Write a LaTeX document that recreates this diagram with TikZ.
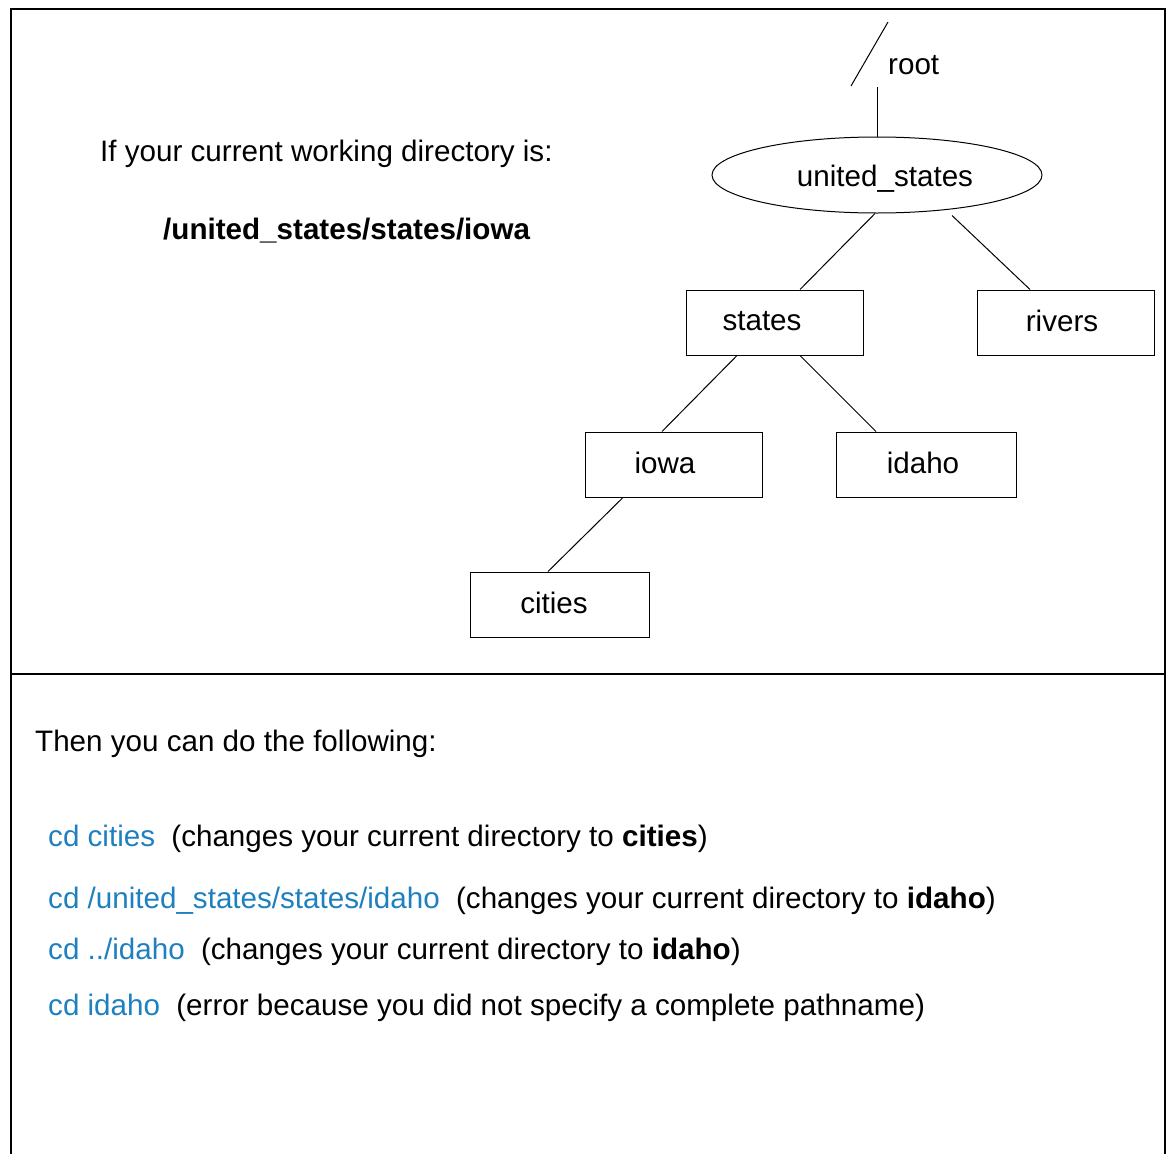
\documentclass[tikz,border=0pt]{standalone}
\usepackage{fontspec}
\setmainfont{Liberation Sans}
\usetikzlibrary{shapes.geometric,calc}
\definecolor{cmdblue}{RGB}{30,128,190}
\begin{document}
\begin{tikzpicture}[x=1pt,y=-1pt,
  every node/.style={font=\fontsize{29.6}{34}\selectfont, inner sep=0pt},
  dirbox/.style={draw, line width=1pt, minimum width=177pt, minimum height=65pt},
  link/.style={line width=1pt},
  txt/.style={anchor=west},
  cmd/.style={text=cmdblue}]
\useasboundingbox (0,0) rectangle (1168,1154);
% outer frame, open at the bottom, and the divider
\draw[line width=2.5pt] (11,1154) -- (11,9) -- (1165,9) -- (1165,1154);
\draw[line width=1.3pt] (11,674) -- (1165,674);

% directory tree
\node[draw, ellipse, line width=1pt, minimum width=330pt, minimum height=76pt] (us) at (877,175) {};
\node (uslabel) at (885,179) {united\_states};
\node[dirbox] (states) at (774.5,322.5) {};
\node (stateslabel) at (762,321) {states};
\node[dirbox] (rivers) at (1066,322.5) {};
\node (riverslabel) at (1062,321) {rivers};
\node[dirbox] (iowa) at (673.5,464.5) {};
\node (iowalabel) at (665,463) {iowa};
\node[dirbox, minimum width=180pt] (idaho) at (926,464.5) {};
\node (idaholabel) at (923,463) {idaho};
\node[dirbox, minimum width=179pt] (cities) at (559.5,604.5) {};
\node (citieslabel) at (554,603) {cities};

% root marker
\coordinate (roottop) at (877,87);
\coordinate (slashlo) at (851,86);
\coordinate (slashhi) at (888,22);
\node[txt] (rootlabel) at (888,65) {root};
\draw[link] (roottop) -- (us.north);
\draw[link] (slashlo) -- (slashhi);

% tree connectors
\draw[link] ([xshift=-2pt]us.south) -- ([xshift=25.5pt]states.north);
\draw[link] ([xshift=75pt,yshift=-2pt]us.south) -- ([xshift=-36pt]rivers.north);
\draw[link] ([xshift=-37.5pt]states.south) -- ([xshift=-11.5pt]iowa.north);
\draw[link] ([xshift=25.5pt]states.south) -- ([xshift=-50pt]idaho.north);
\draw[link] ([xshift=-50.5pt]iowa.south) -- ([xshift=-11.5pt]cities.north);

% upper text
\node[txt] (cwd) at (100,154) {If your current working directory is:};
\node[txt] (cwdpath) at (163,231) {\bfseries /united\_states/states/iowa};

% lower text
\node[txt] (then) at (35,744) {Then you can do the following:};
\node[txt] (ex1) at (48,839) {\textcolor{cmdblue}{cd cities}\hspace{0.55em}(changes your current directory to \textbf{cities})};
\node[txt] (ex2) at (48,901) {\textcolor{cmdblue}{cd /united\_states/states/idaho}\hspace{0.55em}(changes your current directory to \textbf{idaho})};
\node[txt] (ex3) at (48,952) {\textcolor{cmdblue}{cd ../idaho}\hspace{0.55em}(changes your current directory to \textbf{idaho})};
\node[txt] (ex4) at (48,1008) {\textcolor{cmdblue}{cd idaho}\hspace{0.55em}(error because you did not specify a complete pathname)};
\end{tikzpicture}
\end{document}
